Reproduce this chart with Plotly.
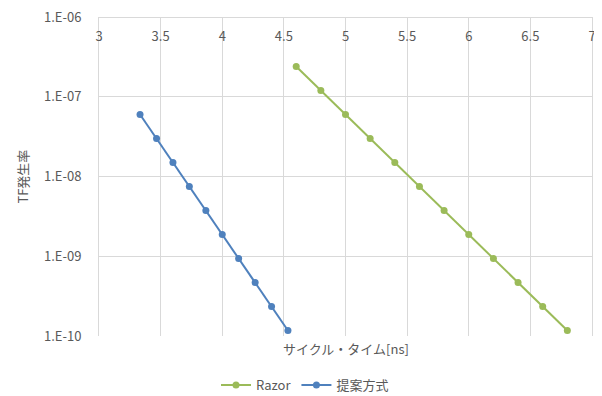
import plotly.graph_objects as go

razor_x = [4.6, 4.8, 5.0, 5.2, 5.4, 5.6, 5.8, 6.0, 6.2, 6.4, 6.6, 6.8]
razor_y = [2.4e-7, 1.2e-7, 6.0e-8, 3.0e-8, 1.5e-8, 7.5e-9, 3.75e-9, 1.875e-9,
           9.4e-10, 4.7e-10, 2.35e-10, 1.17e-10]
prop_x = [3.333, 3.467, 3.6, 3.733, 3.867, 4.0, 4.133, 4.267, 4.4, 4.533]
prop_y = [6.0e-8, 3.0e-8, 1.5e-8, 7.5e-9, 3.75e-9, 1.875e-9, 9.4e-10, 4.7e-10,
          2.35e-10, 1.17e-10]

y_tickvals = [1e-10, 1e-9, 1e-8, 1e-7, 1e-6]
y_ticktext = ["1.E-10", "1.E-09", "1.E-08", "1.E-07", "1.E-06"]
x_tickvals = [3, 3.5, 4, 4.5, 5, 5.5, 6, 6.5, 7]
x_ticktext = ["3", "3.5", "4", "4.5", "5", "5.5", "6", "6.5", "7"]

FONT = "Noto Sans CJK JP"
GRAY = "#595959"
GRID = "#D9D9D9"

fig = go.Figure()
fig.add_trace(go.Scatter(x=razor_x, y=razor_y, name="Razor", mode="lines+markers",
                         line=dict(color="#9BBB59", width=2),
                         marker=dict(color="#9BBB59", size=7)))
fig.add_trace(go.Scatter(x=prop_x, y=prop_y, name="提案方式", mode="lines+markers",
                         line=dict(color="#4F81BD", width=2),
                         marker=dict(color="#4F81BD", size=7)))

fig.update_layout(
    width=594, height=388,
    margin=dict(l=91, r=10, t=9, b=60, autoexpand=False),
    paper_bgcolor="white", plot_bgcolor="white",
    font=dict(family=FONT, size=13, color=GRAY),
    showlegend=True,
    legend=dict(orientation="h", xref="container", x=0.5, xanchor="center",
                y=-0.154, yanchor="middle", font=dict(size=13, color=GRAY)),
    xaxis=dict(range=[3, 7], side="bottom", anchor="free", position=1,
               tickvals=x_tickvals, ticktext=x_ticktext, automargin=False,
               showgrid=True, gridcolor=GRID, gridwidth=1, zeroline=False,
               showline=True, linecolor=GRID, mirror=True, ticks="",
               ticklabelstandoff=7, ticklabeloverflow="allow",
               tickfont=dict(size=13, color=GRAY)),
    yaxis=dict(type="log", range=[-10.0001, -5.9999], tickvals=y_tickvals,
               ticktext=y_ticktext, automargin=False,
               showgrid=True, gridcolor=GRID, gridwidth=1, zeroline=False,
               showline=True, linecolor=GRID, mirror=True,
               ticks="", ticklabelstandoff=14, ticklabeloverflow="allow",
               tickfont=dict(size=13, color=GRAY)),
    annotations=[
        dict(text="サイクル・タイム[ns]", x=0.5, y=-0.04, xref="paper", yref="paper",
             xanchor="center", yanchor="middle", showarrow=False,
             font=dict(size=13, color=GRAY)),
        dict(text="TF発生率", x=-0.156, y=0.5, xref="paper", yref="paper",
             xanchor="center", yanchor="middle",
             showarrow=False, textangle=-90, font=dict(size=13, color=GRAY)),
    ],
)
fig.write_html("out.html")
